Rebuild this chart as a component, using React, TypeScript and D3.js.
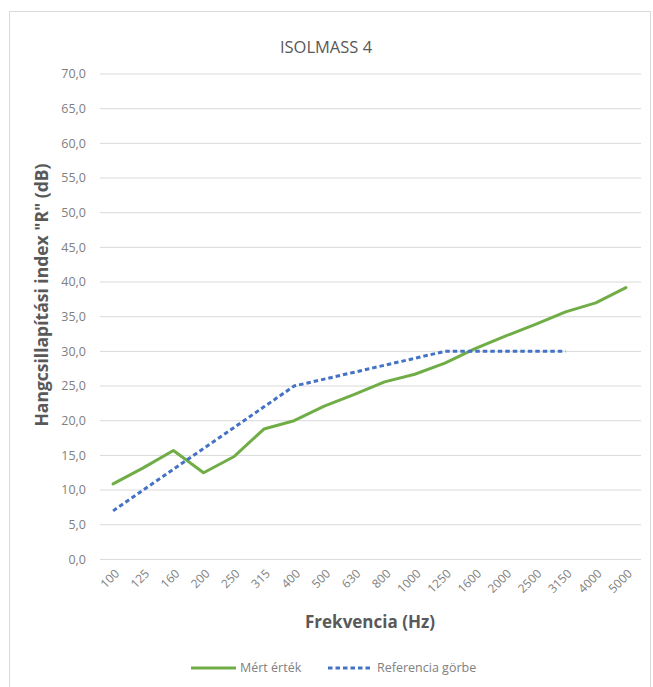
import React from 'react';
import * as d3 from 'd3';

const frequencies = ['100', '125', '160', '200', '250', '315', '400', '500', '630', '800', '1000', '1250', '1600', '2000', '2500', '3150', '4000', '5000'];
const measured = [10.9, 13.2, 15.7, 12.5, 14.8, 18.8, 20.0, 22.1, 23.8, 25.6, 26.7, 28.3, 30.4, 32.2, 33.9, 35.7, 37.0, 39.2];
const reference = [7, 10, 13, 16, 19, 22, 25, 26, 27, 28, 29, 30, 30, 30, 30, 30];
const yTicks = [0, 5, 10, 15, 20, 25, 30, 35, 40, 45, 50, 55, 60, 65, 70];

const FONT = '"Open Sans", "DejaVu Sans", sans-serif';

function App() {
    const W = 653;
    const H = 687;
    const margin = { top: 74, right: 12, bottom: 128, left: 98 };
    const plotW = 641 - margin.left;
    const plotH = 559.4 - margin.top;

    const x = d3.scaleBand().domain(frequencies).range([0, plotW]);
    const y = d3.scaleLinear().domain([0, 70]).range([plotH, 0]);
    const cx = (i) => x(frequencies[i]) + x.bandwidth() / 2;

    const line = d3.line().x((d, i) => cx(i)).y(d => y(d));
    const fmt = (v) => v.toFixed(1).replace('.', ',');

    return (
        <svg width={W} height={H} style={{ position: 'absolute', left: 0, top: 0 }}>
            <rect x={9.5} y={11.5} width={641} height={680} fill="#fff" stroke="#d9d9d9" />
            <text x={326} y={53} textAnchor="middle" fontFamily={FONT} fontSize={16.5} fill="#595959">ISOLMASS 4</text>
            <g transform={`translate(${margin.left},${margin.top})`}>
                {yTicks.map(t => (
                    <g key={t}>
                        <line x1={2} x2={plotW} y1={y(t)} y2={y(t)} stroke="#d9d9d9" strokeWidth={1} />
                        <text x={-12} y={y(t)} dy="0.35em" textAnchor="end" fontFamily={FONT} fontSize={12.5} fill="#808080">{fmt(t)}</text>
                    </g>
                ))}
                {frequencies.map((f, i) => (
                    <text key={f} transform={`translate(${cx(i) + 4},${plotH + 12}) rotate(-45)`} textAnchor="end" dy="0.35em" fontFamily={FONT} fontSize={12} fill="#808080">{f}</text>
                ))}
                <path d={line(measured)} fill="none" stroke="#70ad47" strokeWidth={3} strokeLinejoin="round" strokeLinecap="round" />
                <path d={line(reference)} fill="none" stroke="#4472c4" strokeWidth={3} strokeDasharray="4.5 3" strokeLinejoin="round" />
            </g>
            <text x={370} y={628} textAnchor="middle" fontFamily={FONT} fontSize={17} fontWeight="bold" fill="#595959">Frekvencia (Hz)</text>
            <text transform={`translate(48,295) rotate(-90)`} textAnchor="middle" fontFamily={FONT} fontSize={17.5} fontWeight="bold" fill="#595959">Hangcsillapítási index "R" (dB)</text>
            <g fontFamily={FONT} fontSize={12.5} fill="#808080">
                <line x1={191} x2={236} y1={668} y2={668} stroke="#70ad47" strokeWidth={3} />
                <text x={240} y={668} dy="0.35em">Mért érték</text>
                <line x1={328} x2={373} y1={668} y2={668} stroke="#4472c4" strokeWidth={3} strokeDasharray="4.5 3" />
                <text x={377} y={668} dy="0.35em">Referencia görbe</text>
            </g>
        </svg>
    );
}

export default App;
